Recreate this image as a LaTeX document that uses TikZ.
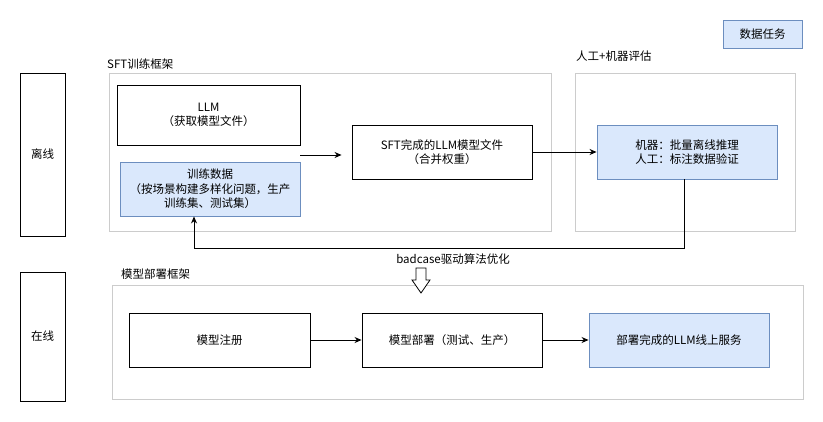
\documentclass[tikz,border=0pt]{standalone}
\usepackage{fontspec}
\setmainfont{Noto Sans CJK SC}
\usetikzlibrary{arrows.meta,positioning,calc}
\definecolor{bluefill}{HTML}{DAE8FC}
\definecolor{bluedraw}{HTML}{6C8EBF}
\definecolor{framegray}{HTML}{CCCCCC}
\begin{document}
\begin{tikzpicture}[x=1pt,y=-1pt,
  every node/.style={font=\fontsize{11.5}{14.5}\selectfont, align=center, inner sep=0pt},
  plainbox/.style={draw=black, line width=0.9pt, fill=white},
  bluebox/.style={draw=bluedraw, line width=0.9pt, fill=bluefill},
  framebox/.style={draw=framegray, line width=0.9pt},
  lbl/.style={anchor=west},
  arr/.style={-{Stealth[length=7pt,width=6pt]}, line width=0.9pt}]
\useasboundingbox (0,0) rectangle (823,421);
% side labels
\node[plainbox, minimum width=45pt, minimum height=163pt] (offline) at (42.5,154.5) {离线};
\node[plainbox, minimum width=45pt, minimum height=129pt] (online) at (42.5,336.5) {在线};
% frames
\node[framebox, minimum width=442pt, minimum height=158pt] (sftframe) at (330,152) {};
\node[lbl] (sftlbl) at (107,64) {SFT训练框架};
\node[framebox, minimum width=220pt, minimum height=158pt] (evalframe) at (685,152) {};
\node[lbl] (evallbl) at (576,56) {人工+机器评估};
\node[framebox, minimum width=691pt, minimum height=114pt] (depframe) at (457.5,342) {};
\node[lbl] (deplbl) at (121,274) {模型部署框架};
% legend
\node[bluebox, minimum width=79pt, minimum height=28pt] (legend) at (762.5,34) {数据任务};
% boxes
\node[plainbox, minimum width=183pt, minimum height=60pt] (llm) at (208.5,115) {LLM\\（获取模型文件）};
\node[bluebox, minimum width=180pt, minimum height=54pt] (train) at (210,189) {训练数据\\（按场景构建多样化问题，生产\\训练集、测试集）};
\node[plainbox, minimum width=180pt, minimum height=54pt] (sft) at (442,152) {SFT完成的LLM模型文件\\（合并权重）};
\node[bluebox, minimum width=180pt, minimum height=54pt] (eval) at (687,152) {机器：批量离线推理\\人工：标注数据验证};
\node[plainbox, minimum width=181pt, minimum height=54pt] (reg) at (219.5,340) {模型注册};
\node[plainbox, minimum width=180pt, minimum height=54pt] (dep) at (452,340) {模型部署（测试、生产）};
\node[bluebox, minimum width=180pt, minimum height=54pt] (svc) at (679,340) {部署完成的LLM线上服务};
% connectors
\coordinate (src) at (300,155);
\draw[arr, shorten >=10pt] (src) -- (src -| sft.west);
\draw[arr] (sft.east) -- (eval.west);
\coordinate (fb) at (194,248);
\draw[arr] (eval.south -| 684,0) |- (fb) -- (fb |- train.south);
\draw[arr] (reg.east) -- (dep.west);
\draw[arr] (dep.east) -- (svc.west);
% badcase label and hollow arrow
\node (badlbl) at (453,259) {badcase驱动算法优化};
\draw[line width=0.8pt, fill=white, line join=miter] (416,268) -- (426,268) -- (426,280) -- (430,280) -- (421,293) -- (412,280) -- (416,280) -- cycle;
\end{tikzpicture}
\end{document}
